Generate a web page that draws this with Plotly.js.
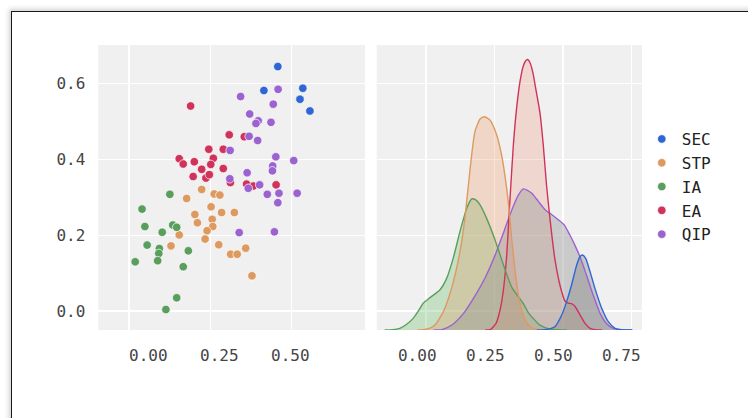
<!DOCTYPE html>
<html>
<head>
<meta charset="utf-8">
<script src="https://cdn.plot.ly/plotly-3.0.1.min.js"></script>
<style>
  html, body { margin: 0; padding: 0; background: #ffffff; overflow: hidden; }
  #wrap { position: relative; width: 748px; height: 418px; }
  #chart { position: absolute; left: 0; top: 0; width: 748px; height: 418px; }
  #frame { position: absolute; left: 11px; top: 11px; width: 900px; height: 600px;
           border-left: 1.5px solid #1a1a1a; border-top: 1.5px solid #1a1a1a;
           box-shadow: -2px -2px 5px rgba(0,0,0,0.18); pointer-events: none; }
</style>
</head>
<body>
<div id="wrap">
  <div id="chart"></div>
  <div id="frame"></div>
</div>
<script>
// ---- categories ----
const groups = ['SEC', 'STP', 'IA', 'EA', 'QIP'];
const colors = ['#2f66d3', '#dd9a60', '#5a9e5e', '#cf335a', '#9b62d0'];

// ---- scatter values (x = first variable, y = second variable) ----
const secX = [0.456, 0.407, 0.544, 0.534, 0.569];
const secY = [0.645, 0.582, 0.588, 0.559, 0.528];

const stpX = [0.188, 0.135, 0.232, 0.252, 0.221, 0.164, 0.258, 0.303, 0.173, 0.225,
              0.227, 0.207, 0.109, 0.200, 0.080, 0.248, 0.290, 0.313, 0.343, 0.365];
const stpY = [0.321, 0.297, 0.309, 0.306, 0.275, 0.255, 0.260, 0.260, 0.233, 0.242,
              0.223, 0.212, 0.201, 0.190, 0.172, 0.175, 0.150, 0.150, 0.166, 0.093];

const iaX = [0.076, -0.022, -0.012, 0.086, 0.100, 0.049, -0.004, 0.039, 0.037, 0.141,
             -0.046, 0.033, 0.123, 0.100, 0.062];
const iaY = [0.308, 0.269, 0.223, 0.227, 0.221, 0.208, 0.174, 0.165, 0.152, 0.159,
             0.130, 0.133, 0.117, 0.035, 0.004];

const eaX = [0.149, 0.285, 0.338, 0.213, 0.264, 0.109, 0.123, 0.162, 0.229, 0.220,
             0.188, 0.264, 0.158, 0.203, 0.215, 0.289, 0.346, 0.370, 0.450];
const eaY = [0.541, 0.465, 0.460, 0.427, 0.427, 0.402, 0.388, 0.394, 0.403, 0.387,
             0.374, 0.376, 0.355, 0.351, 0.360, 0.339, 0.335, 0.330, 0.333];

const qipX = [0.457, 0.325, 0.440, 0.357, 0.387, 0.379, 0.432, 0.355, 0.385, 0.288,
              0.449, 0.512, 0.438, 0.437, 0.287, 0.348, 0.352, 0.392, 0.419, 0.460,
              0.524, 0.456, 0.320, 0.444];
const qipY = [0.585, 0.566, 0.546, 0.520, 0.502, 0.495, 0.498, 0.461, 0.450, 0.424,
              0.407, 0.397, 0.383, 0.370, 0.349, 0.365, 0.324, 0.333, 0.308, 0.311,
              0.311, 0.286, 0.207, 0.209];

// ---- density curves of the second variable ----
const secKdeX = [0.44, 0.469, 0.49, 0.506, 0.531, 0.549, 0.567, 0.586, 0.598, 0.607, 0.619, 0.635, 0.653, 0.678, 0.702, 0.727, 0.751, 0.79];
const secKdeD = [0, 0.003, 0.01, 0.024, 0.108, 0.205, 0.325, 0.47, 0.53, 0.542, 0.518, 0.422, 0.301, 0.157, 0.06, 0.012, 0.002, 0];

const stpKdeX = [0.0, 0.022, 0.045, 0.065, 0.096, 0.126, 0.157, 0.175, 0.188, 0.2, 0.212, 0.231, 0.246, 0.267, 0.292, 0.31, 0.322, 0.335, 0.347, 0.36, 0.372, 0.385, 0.40, 0.42, 0.445, 0.47];
const stpKdeD = [0, 0.003, 0.012, 0.036, 0.133, 0.301, 0.566, 0.807, 1.048, 1.265, 1.434, 1.525, 1.542, 1.518, 1.41, 1.265, 1.12, 0.92, 0.66, 0.42, 0.25, 0.13, 0.06, 0.015, 0.002, 0];

const iaKdeX = [-0.12, -0.09, -0.064, -0.04, -0.015, 0.005, 0.022, 0.047, 0.083, 0.108, 0.132, 0.157, 0.182, 0.2, 0.215, 0.231, 0.255, 0.286, 0.317, 0.347, 0.37, 0.39, 0.41, 0.426, 0.451, 0.488, 0.55];
const iaKdeD = [0, 0.002, 0.012, 0.04, 0.084, 0.14, 0.193, 0.234, 0.289, 0.373, 0.518, 0.711, 0.88, 0.947, 0.94, 0.904, 0.807, 0.651, 0.47, 0.31, 0.245, 0.19, 0.12, 0.084, 0.035, 0.006, 0];

const eaKdeX = [0.25, 0.27, 0.29, 0.305, 0.316, 0.328, 0.341, 0.353, 0.365, 0.378, 0.39, 0.398, 0.406, 0.415, 0.425, 0.435, 0.451, 0.463, 0.475, 0.488, 0.506, 0.525, 0.543, 0.555, 0.567, 0.58, 0.598, 0.616, 0.635, 0.655, 0.68];
const eaKdeD = [0, 0.005, 0.05, 0.15, 0.28, 0.52, 0.95, 1.33, 1.6, 1.8, 1.91, 1.945, 1.955, 1.93, 1.86, 1.75, 1.57, 1.34, 1.05, 0.8, 0.51, 0.32, 0.21, 0.195, 0.19, 0.17, 0.11, 0.05, 0.012, 0.002, 0];

const qipKdeX = [0.06, 0.09, 0.13, 0.17, 0.21, 0.25, 0.29, 0.32, 0.35, 0.37, 0.39, 0.42, 0.445, 0.47, 0.49, 0.51, 0.54, 0.56, 0.58, 0.60, 0.623, 0.647, 0.672, 0.696, 0.72, 0.75, 0.79];
const qipKdeD = [0, 0.003, 0.04, 0.12, 0.24, 0.38, 0.56, 0.72, 0.88, 0.97, 1.02, 0.99, 0.93, 0.87, 0.84, 0.81, 0.76, 0.69, 0.61, 0.52, 0.39, 0.25, 0.12, 0.045, 0.012, 0.002, 0];

// ---- tick labels ----
const xTickVals = [0, 0.25, 0.5];
const xTickText = ['0.00', '0.25', '0.50'];
const x2TickVals = [0, 0.25, 0.5, 0.75];
const x2TickText = ['0.00', '0.25', '0.50', '0.75'];
const yTickVals = [0, 0.2, 0.4, 0.6];
const yTickText = ['0.0', '0.2', '0.4', '0.6'];

const scatterX = [secX, stpX, iaX, eaX, qipX];
const scatterY = [secY, stpY, iaY, eaY, qipY];
const kdeX = [secKdeX, stpKdeX, iaKdeX, eaKdeX, qipKdeX];
const kdeD = [secKdeD, stpKdeD, iaKdeD, eaKdeD, qipKdeD];
const fills = ['rgba(120,120,120,0.34)', 'rgba(240,132,72,0.24)', 'rgba(97,187,97,0.30)',
               'rgba(236,128,92,0.22)', 'rgba(150,150,150,0.42)'];

const traces = [];
// empty placeholder traces so the grid-only axes and the diagonal panel exist
[['x', 'y'], ['x3', 'y'], ['x2', 'y2'], ['x4', 'y2']].forEach(function (p) {
  traces.push({type: 'scatter', mode: 'markers', x: [], y: [], xaxis: p[0], yaxis: p[1],
               showlegend: false, hoverinfo: 'skip'});
});
// density fills
[2, 1, 3, 4, 0].forEach(function (i) {
  traces.push({
    type: 'scatter', mode: 'lines', x: kdeX[i], y: kdeD[i],
    xaxis: 'x2', yaxis: 'y4', fill: 'tozeroy', fillcolor: fills[i],
    line: {width: 0, shape: 'spline', smoothing: 0.6},
    showlegend: false, hoverinfo: 'skip'
  });
});
// density outlines, first level on top
[4, 3, 2, 1, 0].forEach(function (i) {
  traces.push({
    type: 'scatter', mode: 'lines', x: kdeX[i], y: kdeD[i],
    xaxis: 'x2', yaxis: 'y4',
    line: {color: colors[i], width: 1.4, shape: 'spline', smoothing: 0.6},
    showlegend: false, hoverinfo: 'skip'
  });
});
groups.forEach(function (g, i) {
  traces.push({
    type: 'scatter', mode: 'markers', name: g, x: scatterX[i], y: scatterY[i],
    xaxis: 'x', yaxis: 'y',
    marker: {color: colors[i], size: 8.5, line: {color: '#ffffff', width: 0.7}}
  });
});

const tickFont = {family: 'DejaVu Sans Mono', size: 16, color: '#454545'};
const yDom = [0.2105, 0.8923];
const layout = {
  width: 748, height: 418,
  margin: {l: 0, r: 0, t: 0, b: 0},
  paper_bgcolor: '#ffffff', plot_bgcolor: '#f0f0f0',
  showlegend: true,
  legend: {x: 0.858, y: 0.708, xanchor: 'left', yanchor: 'top',
           font: {family: 'DejaVu Sans Mono', size: 16, color: '#222222'},
           bgcolor: 'rgba(0,0,0,0)', traceorder: 'normal'},
  xaxis: {domain: [0.1314, 0.488], range: [-0.176, 0.763], anchor: 'y',
          tickvals: xTickVals, ticktext: xTickText, showgrid: false, zeroline: false,
          showline: false, ticks: '', tickfont: tickFont, ticklabelstandoff: 14, automargin: false},
  xaxis3: {overlaying: 'x', anchor: 'y', range: [-0.176, 0.763], domain: [0.1314, 0.488],
           tickvals: [-0.067, 0.2197, 0.505], showticklabels: false, showgrid: true,
           gridcolor: '#ffffff', gridwidth: 1.5, zeroline: false, ticks: '', automargin: false},
  yaxis: {domain: yDom, range: [-0.050, 0.702], anchor: 'x',
          tickvals: yTickVals, ticktext: yTickText, showgrid: true, gridcolor: '#ffffff',
          gridwidth: 1.5, zeroline: false, showline: false, ticks: '', tickfont: tickFont,
          ticklabelstandoff: 12, automargin: false},
  xaxis2: {domain: [0.5036, 0.8583], range: [-0.149, 0.826], anchor: 'y2',
           tickvals: x2TickVals, ticktext: x2TickText, showgrid: false, zeroline: false,
           showline: false, ticks: '', tickfont: tickFont, ticklabelstandoff: 14, automargin: false},
  xaxis4: {overlaying: 'x2', anchor: 'y2', range: [-0.149, 0.826], domain: [0.5036, 0.8583],
           tickvals: [0.032, 0.283, 0.536, 0.787], showticklabels: false, showgrid: true,
           gridcolor: '#ffffff', gridwidth: 1.5, zeroline: false, ticks: '', automargin: false},
  yaxis2: {domain: yDom, range: [-0.050, 0.702], anchor: 'x2',
           tickvals: yTickVals, showticklabels: false, showgrid: true, gridcolor: '#ffffff',
           gridwidth: 1.5, zeroline: false, ticks: '', automargin: false},
  yaxis4: {overlaying: 'y2', anchor: 'x2', range: [0, 2.06], domain: yDom,
           showticklabels: false, showgrid: false, zeroline: false, ticks: '', automargin: false}
};

Plotly.newPlot('chart', traces, layout, {staticPlot: true, displayModeBar: false});
</script>
</body>
</html>
